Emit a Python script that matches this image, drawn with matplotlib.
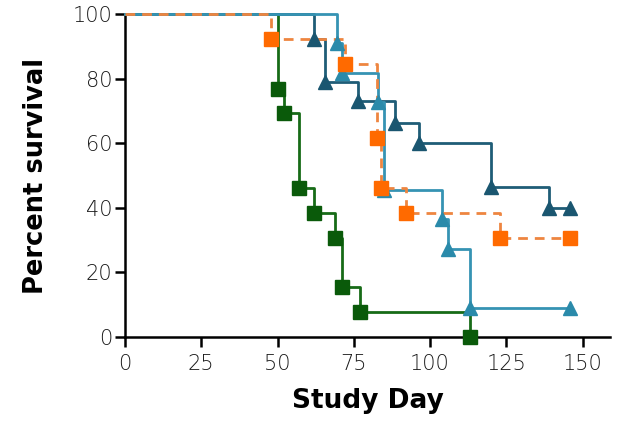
import matplotlib
matplotlib.use("Agg")
import matplotlib.pyplot as plt

# ---- data ----
green_days = [50, 52, 57, 62, 69, 71, 77, 113]
green_surv = [76.9, 69.2, 46.2, 38.5, 30.8, 15.4, 7.7, 0.0]

orange_days = [48, 72, 82.5, 84, 92, 123]
orange_surv = [92.3, 84.6, 61.5, 46.2, 38.5, 30.8]
orange_censor = 146

dark_days = [62, 65.5, 76.5, 88.5, 96.5, 120, 139]
dark_surv = [92.3, 79.0, 73.2, 66.4, 60.0, 46.5, 40.0]
dark_censor = 146

teal_days = [69.5, 71, 83, 85, 104, 106, 113]
teal_surv = [90.9, 81.8, 72.7, 45.5, 36.4, 27.3, 9.1]
teal_censor = 146

x_ticks = [0, 25, 50, 75, 100, 125, 150]
y_ticks = [0, 20, 40, 60, 80, 100]

fig = plt.figure(figsize=(6.2, 4.23), dpi=100)
ax = fig.add_axes([125 / 620, 86 / 423, 485 / 620, 323 / 423])


def km(ax, days, surv, censor, color, linecolor, marker, ls):
    xs = [0] + list(days)
    ys = [100] + list(surv)
    if censor is not None:
        xs = xs + [censor]
        ys = ys + [surv[-1]]
    ax.step(xs, ys, where="post", color=linecolor, lw=2.0, ls=ls,
            clip_on=False, zorder=3)
    mx = list(days) + ([censor] if censor is not None else [])
    my = list(surv) + ([surv[-1]] if censor is not None else [])
    ax.plot(mx, my, ls="none", marker=marker, ms=9.5 if marker == "s" else 10,
            color=color, mec=color, clip_on=False, zorder=4)


km(ax, green_days, green_surv, None, "#0a5a0a", "#176b17", "s", "-")
km(ax, dark_days, dark_surv, dark_censor, "#1a5670", "#1f5d77", "^", "-")
km(ax, teal_days, teal_surv, teal_censor, "#2a8aaa", "#3593b3", "^", "-")
km(ax, orange_days, orange_surv, orange_censor, "#ff6a00", "#ee8540", "s",
   (0, (3.5, 2.5)))

ax.set_xlim(0, 159)
ax.set_ylim(0, 100)
ax.set_xticks(x_ticks)
ax.set_yticks(y_ticks)
for s in ["top", "right"]:
    ax.spines[s].set_visible(False)
for s in ["left", "bottom"]:
    ax.spines[s].set_linewidth(1.8)
    ax.spines[s].set_color("black")
ax.tick_params(axis="both", length=7, width=1.8, direction="out",
               labelsize=15, labelcolor="#1a1a1a", pad=2)
ax.tick_params(axis="x", pad=5)
for lab in ax.get_xticklabels() + ax.get_yticklabels():
    lab.set_fontweight("light")

ax.set_xlabel("Study Day", fontsize=19, fontweight="bold", labelpad=10)
ax.set_ylabel("Percent survival", fontsize=18.5, fontweight="bold", labelpad=17)

fig.savefig("out.png", dpi=100)
